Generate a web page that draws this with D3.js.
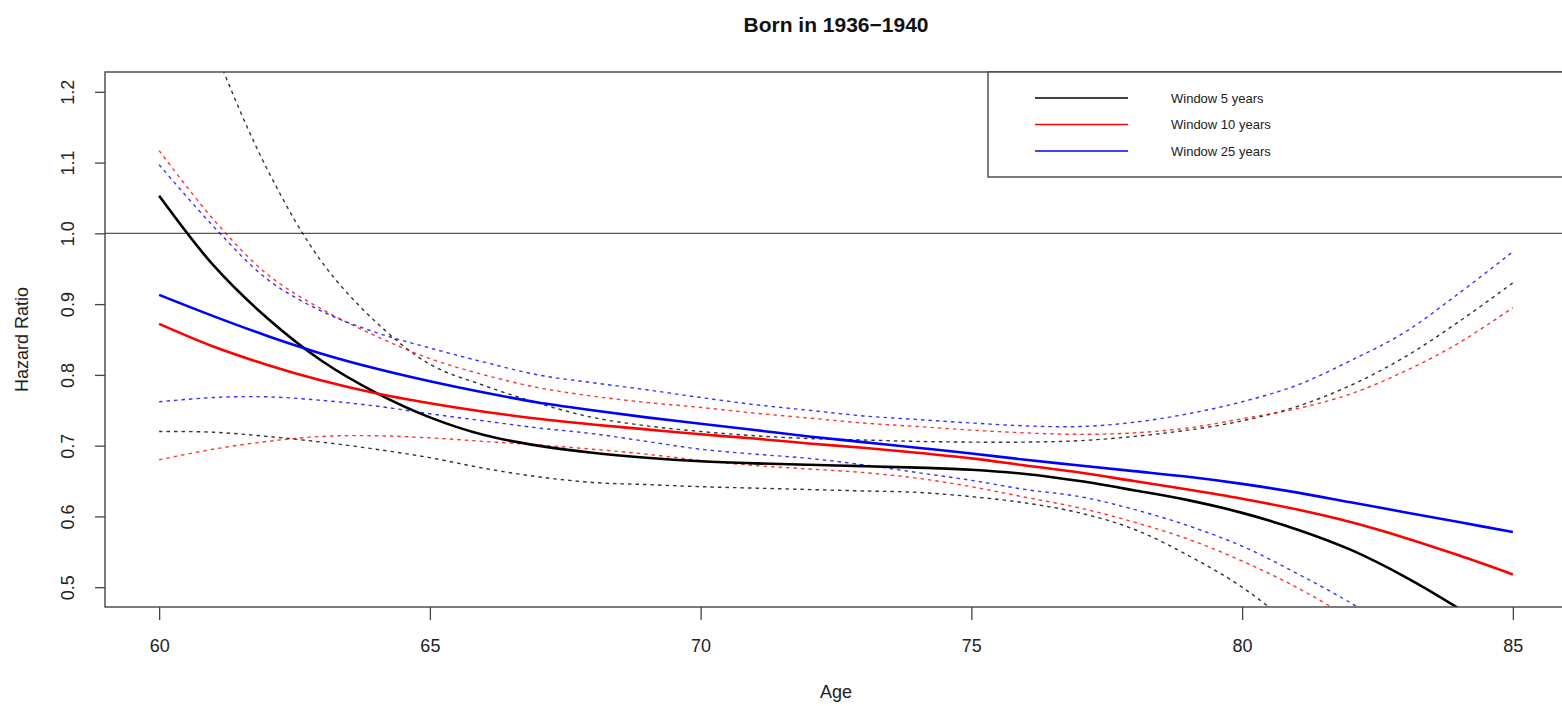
<!DOCTYPE html>
<html>
<head>
<meta charset="utf-8">
<script src="https://cdn.jsdelivr.net/npm/d3@7"></script>
<style>
  body { margin: 0; background: #fff; }
  svg { font-family: "Liberation Sans", Arial, sans-serif; }
</style>
</head>
<body>
<div id="chart"></div>
<script>
// ages 60..85, one value per year
const ages = d3.range(60, 86);

// Window 5 years (black)
const w5   = [1.053, 0.955, 0.88, 0.82, 0.775, 0.74, 0.715, 0.70, 0.69, 0.683, 0.678, 0.675, 0.673, 0.671, 0.669, 0.666, 0.66, 0.65, 0.637, 0.623, 0.605, 0.582, 0.553, 0.515, 0.47, 0.42];
const w5Hi = [1.48, 1.265, 1.09, 0.96, 0.875, 0.815, 0.785, 0.76, 0.74, 0.728, 0.72, 0.714, 0.71, 0.708, 0.706, 0.705, 0.705, 0.707, 0.713, 0.722, 0.735, 0.755, 0.785, 0.825, 0.875, 0.93];
const w5Lo = [0.72, 0.719, 0.713, 0.705, 0.695, 0.683, 0.668, 0.656, 0.648, 0.645, 0.642, 0.64, 0.638, 0.636, 0.634, 0.628, 0.619, 0.605, 0.582, 0.545, 0.50, 0.44, 0.37, null, null, null];

// Window 10 years (red)
const w10   = [0.872, 0.84, 0.814, 0.792, 0.774, 0.76, 0.748, 0.738, 0.73, 0.723, 0.716, 0.71, 0.703, 0.697, 0.69, 0.682, 0.672, 0.662, 0.65, 0.638, 0.625, 0.61, 0.592, 0.57, 0.545, 0.518];
const w10Hi = [1.117, 1.02, 0.942, 0.893, 0.855, 0.823, 0.8, 0.782, 0.77, 0.761, 0.754, 0.746, 0.739, 0.732, 0.727, 0.722, 0.718, 0.716, 0.718, 0.725, 0.738, 0.752, 0.773, 0.805, 0.845, 0.895];
const w10Lo = [0.68, 0.695, 0.706, 0.713, 0.714, 0.711, 0.706, 0.701, 0.695, 0.688, 0.679, 0.672, 0.667, 0.662, 0.654, 0.642, 0.627, 0.612, 0.592, 0.568, 0.537, 0.50, 0.455, 0.40, null, null];

// Window 25 years (blue)
const w25   = [0.913, 0.883, 0.855, 0.83, 0.809, 0.791, 0.775, 0.761, 0.75, 0.74, 0.731, 0.722, 0.713, 0.705, 0.697, 0.689, 0.68, 0.672, 0.664, 0.656, 0.646, 0.634, 0.62, 0.606, 0.592, 0.578];
const w25Hi = [1.097, 1.01, 0.935, 0.89, 0.86, 0.838, 0.818, 0.80, 0.789, 0.779, 0.768, 0.758, 0.75, 0.742, 0.737, 0.732, 0.728, 0.727, 0.733, 0.745, 0.762, 0.785, 0.82, 0.86, 0.915, 0.974];
const w25Lo = [0.762, 0.768, 0.769, 0.764, 0.756, 0.745, 0.735, 0.725, 0.717, 0.706, 0.695, 0.688, 0.682, 0.673, 0.662, 0.651, 0.638, 0.628, 0.61, 0.587, 0.558, 0.52, 0.478, 0.43, null, null];

const legendLabels = ["Window 5 years", "Window 10 years", "Window 25 years"];
const colors = ["#000000", "#ff0000", "#0000ff"];
const xTicks = [60, 65, 70, 75, 80, 85];
const yTicks = [0.5, 0.6, 0.7, 0.8, 0.9, 1.0, 1.1, 1.2];

const width = 1562, height = 706;
const margin = { top: 72, right: -5, bottom: 99, left: 105 };
const plotW = width - margin.left - margin.right;
const plotH = height - margin.top - margin.bottom;

const svg = d3.select('#chart').append('svg')
    .attr('width', width)
    .attr('height', height);

const x = d3.scaleLinear().domain([59, 86]).range([0, plotW]);
const y = d3.scaleLinear().domain([0.472, 1.228]).range([plotH, 0]);

const g = svg.append('g')
    .attr('transform', `translate(${margin.left},${margin.top})`);

g.append('clipPath').attr('id', 'clip')
  .append('rect').attr('width', plotW).attr('height', plotH);

// reference line at 1
g.append('line')
    .attr('x1', 0).attr('x2', plotW)
    .attr('y1', y(1)).attr('y2', y(1))
    .attr('stroke', '#555').attr('stroke-width', 1.4);

const line = d3.line()
    .defined(d => d[1] != null)
    .x(d => x(d[0]))
    .y(d => y(d[1]))
    .curve(d3.curveCatmullRom.alpha(0.5));

const series = [
  { v: w5Hi, c: 0, dash: true }, { v: w5Lo, c: 0, dash: true },
  { v: w10Hi, c: 1, dash: true }, { v: w10Lo, c: 1, dash: true },
  { v: w25Hi, c: 2, dash: true }, { v: w25Lo, c: 2, dash: true },
  { v: w5, c: 0 }, { v: w10, c: 1 }, { v: w25, c: 2 }
];

const lines = g.append('g').attr('clip-path', 'url(#clip)');
series.forEach(s => {
  lines.append('path')
      .datum(ages.map((a, i) => [a, s.v[i]]))
      .attr('d', line)
      .attr('fill', 'none')
      .attr('stroke', colors[s.c])
      .attr('stroke-width', s.dash ? 1.4 : 2.6)
      .attr('stroke-dasharray', s.dash ? '3.5,4' : null)
      .attr('opacity', s.dash ? 0.8 : 1);
});

// axes
const xAxis = g.append('g')
    .attr('transform', `translate(0,${plotH})`)
    .call(d3.axisBottom(x).tickValues(xTicks).tickSize(13).tickPadding(19).tickFormat(d3.format('d')));
const yAxis = g.append('g')
    .call(d3.axisLeft(y).tickValues(yTicks).tickSize(10).tickFormat(d3.format('.1f')));
[xAxis, yAxis].forEach(a => {
  a.select('.domain').remove();
  a.selectAll('line').attr('stroke', '#444').attr('stroke-width', 1.3);
  a.selectAll('text').attr('font-size', 18).attr('fill', '#222')
      .attr('font-family', '"Liberation Sans", Arial, sans-serif');
});
yAxis.selectAll('text')
    .attr('x', null).attr('dy', '0.35em')
    .attr('text-anchor', 'middle')
    .attr('transform', 'translate(-37,0) rotate(-90)');

// box
g.append('rect')
    .attr('width', plotW).attr('height', plotH)
    .attr('fill', 'none').attr('stroke', '#444').attr('stroke-width', 1.4);

// titles
svg.append('text')
    .attr('x', margin.left + plotW / 2).attr('y', 32)
    .attr('text-anchor', 'middle').attr('font-size', 21).attr('font-weight', 'bold')
    .attr('fill', '#111')
    .text('Born in 1936\u22121940');
svg.append('text')
    .attr('x', margin.left + plotW / 2).attr('y', 698)
    .attr('text-anchor', 'middle').attr('font-size', 18).attr('fill', '#222')
    .text('Age');
svg.append('text')
    .attr('transform', `translate(28,${margin.top + plotH / 2}) rotate(-90)`)
    .attr('text-anchor', 'middle').attr('font-size', 18).attr('fill', '#222')
    .text('Hazard Ratio');

// legend
const legX = 988 - margin.left;
const legend = g.append('g').attr('transform', `translate(${legX},0)`);
legend.append('rect')
    .attr('width', plotW - legX).attr('height', 105)
    .attr('fill', '#fff').attr('stroke', '#444').attr('stroke-width', 1.4);
legendLabels.forEach((t, i) => {
  const ly = 26 + i * 26.5;
  legend.append('line')
      .attr('x1', 47).attr('x2', 140).attr('y1', ly).attr('y2', ly)
      .attr('stroke', colors[i]).attr('stroke-width', 1.3);
  legend.append('text')
      .attr('x', 183).attr('y', ly).attr('dy', '0.35em')
      .attr('font-size', 13).attr('fill', '#222')
      .text(t);
});
</script>
</body>
</html>
